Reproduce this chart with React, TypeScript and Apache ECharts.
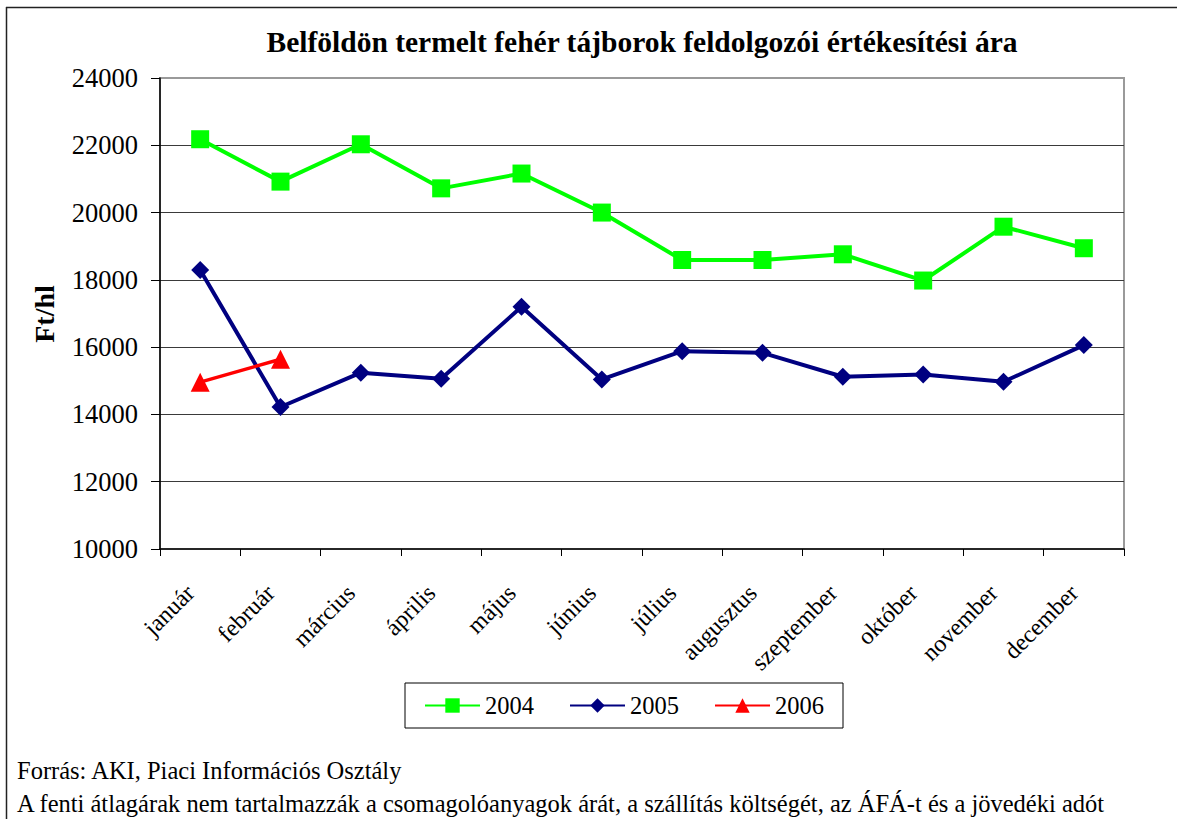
import React, { useEffect, useRef } from "react";
import * as echarts from "echarts";

const titleText = "Belföldön termelt fehér tájborok feldolgozói értékesítési ára";
const yAxisName = "Ft/hl";
const months = [
  "január", "február", "március", "április", "május", "június",
  "július", "augusztus", "szeptember", "október", "november", "december",
];
const seriesNames = ["2004", "2005", "2006"];
const values2004 = [22180, 20920, 22030, 20720, 21160, 20000, 18590, 18590, 18760, 17980, 19580, 18940];
const values2005 = [18290, 14220, 15240, 15060, 17200, 15040, 15880, 15830, 15120, 15190, 14970, 16060];
const values2006: (number | null)[] = [14960, 15640, null, null, null, null, null, null, null, null, null, null];
const yMin = 10000;
const yMax = 24000;
const yInterval = 2000;
const sourceLine = "Forrás: AKI, Piaci Információs Osztály";
const noteLine = "A fenti átlagárak nem tartalmazzák a csomagolóanyagok árát, a szállítás költségét, az ÁFÁ-t és a jövedéki adót";

const FONT = "'Liberation Serif', 'Times New Roman', serif";

export default function App() {
  const ref = useRef<HTMLDivElement>(null);
  useEffect(() => {
    if (!ref.current) return;
    const chart = echarts.init(ref.current, undefined, { renderer: "svg" });
    chart.setOption({
      animation: false,
      backgroundColor: "#ffffff",
      textStyle: { fontFamily: FONT, color: "#000" },
      grid: {
        left: 160,
        right: 53,
        top: 78,
        bottom: 270,
        show: true,
        borderColor: "#9a9a9a",
        borderWidth: 2,
        backgroundColor: "transparent",
      },
      graphic: [
        { type: "line", shape: { x1: 6, y1: 7.5, x2: 1177, y2: 7.5 }, style: { stroke: "#222", lineWidth: 1.5 }, silent: true },
        { type: "line", shape: { x1: 6.5, y1: 7, x2: 6.5, y2: 819 }, style: { stroke: "#222", lineWidth: 1.5 }, silent: true },
        {
          type: "text", x: 642, y: 42,
          style: { text: titleText, fontFamily: FONT, fontSize: 29.5, fontWeight: "bold", fill: "#000", textAlign: "center", textVerticalAlign: "middle" },
          silent: true,
        },
        {
          type: "text", x: 44, y: 314, rotation: Math.PI / 2,
          style: { text: yAxisName, fontFamily: FONT, fontSize: 28, fontWeight: "bold", fill: "#000", textAlign: "center", textVerticalAlign: "middle" },
          silent: true,
        },
        {
          type: "text", x: 17, y: 770,
          style: { text: sourceLine, fontFamily: FONT, fontSize: 24.5, fill: "#000", textAlign: "left", textVerticalAlign: "middle" },
          silent: true,
        },
        {
          type: "text", x: 17, y: 803,
          style: { text: noteLine, fontFamily: FONT, fontSize: 24.5, fill: "#000", textAlign: "left", textVerticalAlign: "middle" },
          silent: true,
        },
      ],
      legend: {
        left: 405,
        top: 683,
        orient: "horizontal",
        data: seriesNames,
        itemWidth: 55,
        itemHeight: 18,
        itemGap: 35,
        padding: [10, 19, 10, 19],
        borderColor: "#000",
        borderWidth: 1,
        backgroundColor: "#fff",
        textStyle: { fontFamily: FONT, fontSize: 24.5, color: "#000" },
      },
      xAxis: {
        type: "category",
        data: months,
        boundaryGap: true,
        axisLine: { show: true, lineStyle: { color: "#000", width: 1.5 } },
        axisTick: { show: true, length: 7, inside: false, lineStyle: { color: "#000" } },
        axisLabel: {
          rotate: 45, margin: 30, fontFamily: FONT, fontSize: 24, color: "#000", interval: 0,
          padding: [0, 14, 0, 0],
        },
        splitLine: { show: false },
      },
      yAxis: {
        type: "value",
        min: yMin,
        max: yMax,
        interval: yInterval,
        axisLine: { show: true, lineStyle: { color: "#000", width: 1.5 } },
        axisTick: { show: true, length: 9, inside: false, lineStyle: { color: "#000" } },
        axisLabel: { margin: 22, fontFamily: FONT, fontSize: 26.5, color: "#000", formatter: (v: number) => String(v) },
        splitLine: { show: true, showMaxLine: false, showMinLine: false, lineStyle: { color: "#3a3a3a", width: 1 } },
      },
      series: [
        {
          name: seriesNames[0], type: "line", data: values2004,
          symbol: "rect", symbolSize: 18, showAllSymbol: true,
          lineStyle: { color: "#00ff00", width: 4 },
          itemStyle: { color: "#00ff00" },
          z: 2,
        },
        {
          name: seriesNames[1], type: "line", data: values2005,
          symbol: "diamond", symbolSize: 18, showAllSymbol: true,
          lineStyle: { color: "#000080", width: 4 },
          itemStyle: { color: "#000080" },
          z: 3,
        },
        {
          name: seriesNames[2], type: "line", data: values2006,
          symbol: "triangle", symbolSize: 19, showAllSymbol: true,
          lineStyle: { color: "#ff0000", width: 3.5 },
          itemStyle: { color: "#ff0000" },
          z: 4,
        },
      ],
    });
    return () => chart.dispose();
  }, []);
  return (
    <div
      ref={ref}
      style={{ position: "absolute", left: 0, top: 0, width: 1177, height: 819, background: "#fff" }}
    />
  );
}
